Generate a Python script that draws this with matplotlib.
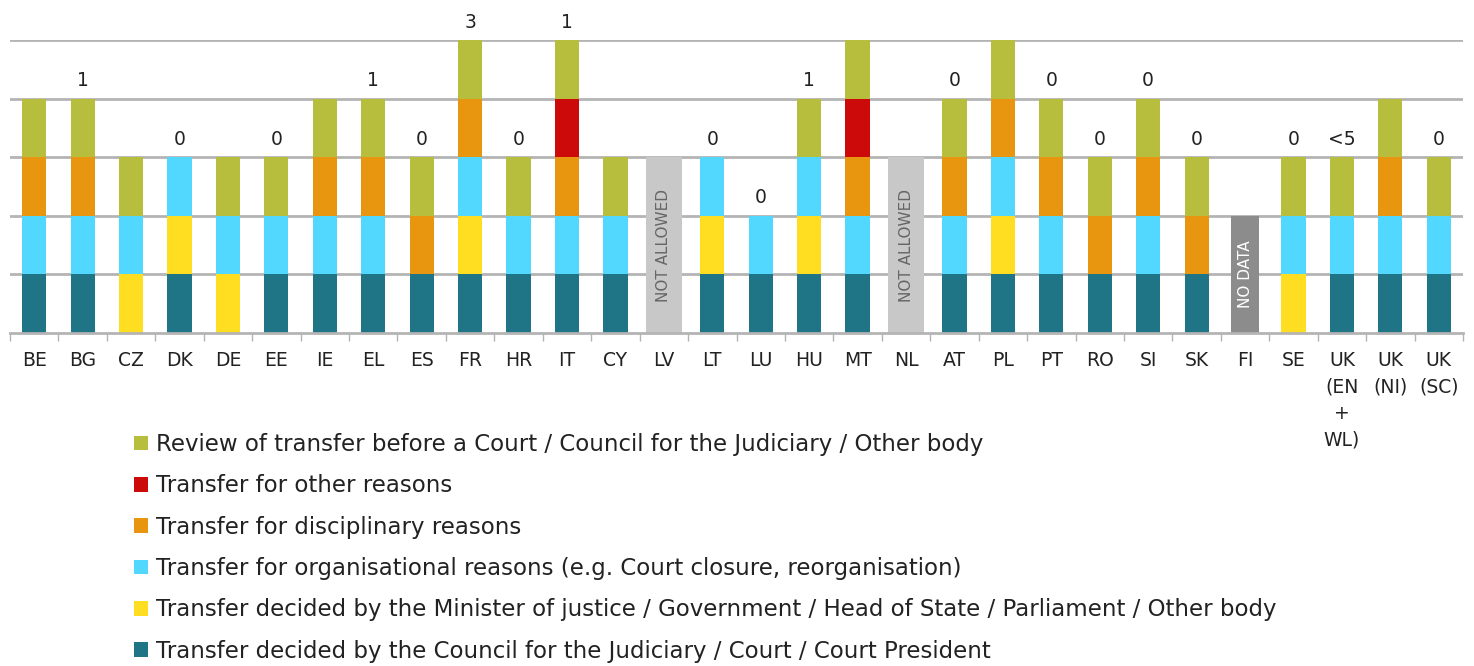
import matplotlib
matplotlib.use("Agg")
import matplotlib.pyplot as plt
from matplotlib.patches import Patch
import numpy as np

plt.rcParams['font.family'] = ['DejaVu Sans']

countries = ["BE", "BG", "CZ", "DK", "DE", "EE", "IE", "EL", "ES", "FR", "HR", "IT",
             "CY", "LV", "LT", "LU", "HU", "MT", "NL", "AT", "PL", "PT", "RO", "SI",
             "SK", "FI", "SE", "UK\n(EN\n+\nWL)", "UK\n(NI)", "UK\n(SC)"]

council        = [1, 1, 0, 1, 0, 1, 1, 1, 1, 1, 1, 1, 1, 0, 1, 1, 1, 1, 0, 1, 1, 1, 1, 1, 1, 0, 0, 1, 1, 1]
minister       = [0, 0, 1, 1, 1, 0, 0, 0, 0, 1, 0, 0, 0, 0, 1, 0, 1, 0, 0, 0, 1, 0, 0, 0, 0, 0, 1, 0, 0, 0]
organisational = [1, 1, 1, 1, 1, 1, 1, 1, 0, 1, 1, 1, 1, 0, 1, 1, 1, 1, 0, 1, 1, 1, 0, 1, 0, 0, 1, 1, 1, 1]
disciplinary   = [1, 1, 0, 0, 0, 0, 1, 1, 1, 1, 0, 1, 0, 0, 0, 0, 0, 1, 0, 1, 1, 1, 1, 1, 1, 0, 0, 0, 1, 0]
other          = [0, 0, 0, 0, 0, 0, 0, 0, 0, 0, 0, 1, 0, 0, 0, 0, 0, 1, 0, 0, 0, 0, 0, 0, 0, 0, 0, 0, 0, 0]
review         = [1, 1, 1, 0, 1, 1, 1, 1, 1, 1, 1, 1, 1, 0, 0, 0, 1, 1, 0, 1, 1, 1, 1, 1, 1, 0, 1, 1, 1, 1]

count_labels = ["", "1", "", "0", "", "0", "", "1", "0", "3", "0", "1", "", "", "0", "0", "1", "",
                "", "0", "", "0", "0", "0", "0", "", "0", "<5", "", "0"]

# countries where the category is not applicable
not_allowed = {"LV": 3, "NL": 3}
no_data = {"FI": 2}

series = [
    ("Transfer decided by the Council for the Judiciary / Court / Court President", council, "#1f7585"),
    ("Transfer decided by the Minister of justice / Government / Head of State / Parliament / Other body", minister, "#ffde21"),
    ("Transfer for organisational reasons (e.g. Court closure, reorganisation)", organisational, "#52d8ff"),
    ("Transfer for disciplinary reasons", disciplinary, "#e8960f"),
    ("Transfer for other reasons", other, "#cc0a0a"),
    ("Review of transfer before a Court / Council for the Judiciary / Other body", review, "#b7bd3c"),
]

W, H = 1474, 666
fig = plt.figure(figsize=(W / 100, H / 100), dpi=100)
ax = fig.add_axes([10 / W, 1 - 333 / H, 1453 / W, 293 / H])

x = np.arange(len(countries))
bottom = np.zeros(len(countries))
for name, vals, col in series:
    v = np.array(vals, dtype=float)
    ax.bar(x, v, width=0.5, bottom=bottom, color=col, edgecolor="none", zorder=3)
    bottom += v

text_col = "#222222"
for code, h in not_allowed.items():
    i = countries.index(code)
    ax.bar(i, h, width=0.74, color="#c8c8c8", zorder=3)
    ax.text(i, h / 2, "NOT ALLOWED", rotation=90, ha="center", va="center",
            fontsize=11, color="#666666", zorder=4)
for code, h in no_data.items():
    i = countries.index(code)
    ax.bar(i, h, width=0.58, color="#8c8c8c", zorder=3)
    ax.text(i, h / 2, "NO DATA", rotation=90, ha="center", va="center",
            fontsize=11, color="white", zorder=4)

for i, lab in enumerate(count_labels):
    if lab:
        ax.annotate(lab, (x[i], bottom[i]), xytext=(0, 6), textcoords="offset points",
                    ha="center", va="bottom", fontsize=13.5, color=text_col,
                    annotation_clip=False)

ax.set_xlim(-0.5, len(countries) - 0.5)
ax.set_ylim(0, 5)
ax.set_yticks([1, 2, 3, 4, 5])
ax.yaxis.grid(True, color="#b4b4b4", linewidth=2, zorder=0)
ax.tick_params(axis="y", left=False, labelleft=False)
for s in ["left", "right", "top"]:
    ax.spines[s].set_visible(False)
ax.spines["bottom"].set_color("#b4b4b4")
ax.spines["bottom"].set_linewidth(2)
ax.spines["bottom"].set_zorder(5)

ax.set_xticks(x)
ax.set_xticklabels(countries, fontsize=13.5, color=text_col, linespacing=1.5, va="top")
ax.tick_params(axis="x", which="major", length=0, pad=13)
ax.set_xticks(np.arange(-0.5, len(countries)), minor=True)
ax.tick_params(axis="x", which="minor", length=6, width=1, color="#b4b4b4")

handles = [Patch(facecolor=col, edgecolor="none", label=name) for name, vals, col in series][::-1]
fig.legend(handles=handles, loc="upper left", bbox_to_anchor=(134 / W, 1 - 433 / H),
           frameon=False, fontsize=16.5, handlelength=0.6, handleheight=0.6,
           handletextpad=0.35, labelspacing=0.8, borderpad=0, borderaxespad=0,
           labelcolor=text_col)

fig.savefig("out.png", dpi=100, facecolor="white")
